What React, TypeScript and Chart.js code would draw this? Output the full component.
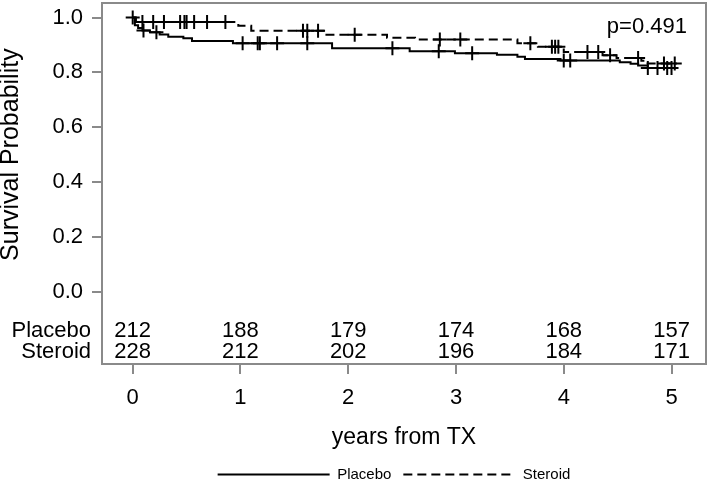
import React, { useEffect, useRef } from "react";
import { Chart, registerables } from "chart.js";

Chart.register(...registerables);

const FONT = "'Liberation Sans', Arial, Helvetica, sans-serif";

// Kaplan-Meier step data (time in years, survival probability)
const placeboTimes = [0, 0.02, 0.05, 0.09, 0.16, 0.25, 0.33, 0.47, 0.55, 0.93, 1.85, 2.57, 2.99, 3.38, 3.57, 3.64, 3.97, 4.52, 4.62, 4.69, 4.78, 5.05];
const placeboSurv = [1.0, 0.972, 0.962, 0.953, 0.946, 0.938, 0.93, 0.924, 0.914, 0.906, 0.888, 0.877, 0.87, 0.864, 0.857, 0.849, 0.843, 0.837, 0.831, 0.825, 0.816, 0.816];
const steroidTimes = [0, 0.03, 0.98, 1.1, 1.77, 2.36, 2.62, 3.57, 3.76, 4.0, 4.36, 4.49, 4.72, 4.76, 5.05];
const steroidSurv = [1.0, 0.984, 0.97, 0.952, 0.937, 0.926, 0.92, 0.906, 0.893, 0.874, 0.862, 0.852, 0.842, 0.832, 0.832];

// censoring times
const placeboCensor = [0.1, 0.22, 1.02, 1.16, 1.18, 1.34, 1.62, 2.41, 2.84, 3.15, 4.0, 4.06, 4.78, 4.87, 4.96, 5.0];
const steroidCensor = [0, 0.09, 0.19, 0.29, 0.44, 0.48, 0.5, 0.57, 0.69, 0.86, 1.58, 1.62, 1.72, 2.06, 2.85, 3.04, 3.69, 3.89, 3.92, 3.95, 4.22, 4.32, 4.43, 4.69, 4.93, 5.03];

const xTicks = [0, 1, 2, 3, 4, 5];
const yTicks = [0, 0.2, 0.4, 0.6, 0.8, 1.0];

const groupLabels = ["Placebo", "Steroid"];
const placeboAtRisk = [212, 188, 179, 174, 168, 157];
const steroidAtRisk = [228, 212, 202, 196, 184, 171];

const pValueText = "p=0.491";
const xTitle = "years from TX";
const yTitle = "Survival Probability";

function survAt(times: number[], surv: number[], t: number) {
  let v = surv[0];
  for (let i = 0; i < times.length; i++) {
    if (times[i] <= t) v = surv[i];
  }
  return v;
}

const GRAY = "#8a8a8a";

const boxPlugin = {
  id: "boxPlugin",
  afterLayout(chart: any) {
    if (chart.legend) {
      chart.legend.left -= 10;
      chart.legend.right -= 10;
    }
  },
  beforeDatasetsDraw(chart: any) {
    const { ctx, chartArea } = chart;
    ctx.save();
    ctx.strokeStyle = GRAY;
    ctx.lineWidth = 2;
    ctx.strokeRect(chartArea.left, chartArea.top, chartArea.right - chartArea.left, chartArea.bottom - chartArea.top);
    ctx.restore();
  },
};

const textPlugin = {
  id: "textPlugin",
  afterDraw(chart: any) {
    const { ctx } = chart;
    const x = chart.scales.x;
    const y = chart.scales.y;
    ctx.save();
    ctx.fillStyle = "#000";
    ctx.font = `22px ${FONT}`;
    ctx.textBaseline = "alphabetic";
    ctx.textAlign = "right";
    ctx.fillText(pValueText, 687, 33);

    const rows = [placeboAtRisk, steroidAtRisk];
    const rowBase = [337, 358];
    rows.forEach((row, r) => {
      ctx.textAlign = "right";
      ctx.fillText(groupLabels[r], 91, rowBase[r]);
      ctx.textAlign = "center";
      row.forEach((n, i) => {
        ctx.fillText(String(n), x.getPixelForValue(xTicks[i]), rowBase[r]);
      });
    });

    ctx.translate(18, y.getPixelForValue(0.5));
    ctx.rotate(-Math.PI / 2);
    ctx.font = `25px ${FONT}`;
    ctx.textAlign = "center";
    ctx.textBaseline = "alphabetic";
    ctx.fillText(yTitle, 0, 0);
    ctx.restore();
  },
};

export default function App() {
  const ref = useRef<HTMLCanvasElement>(null);

  useEffect(() => {
    if (!ref.current) return;
    const lineBase = {
      borderColor: "#000",
      backgroundColor: "#000",
      borderWidth: 2,
      stepped: true,
      pointRadius: 0,
      pointHoverRadius: 0,
      pointStyle: "line",
      fill: false,
    };
    const censorBase = {
      showLine: false,
      pointStyle: "cross",
      pointRadius: 7,
      pointHoverRadius: 7,
      pointBorderWidth: 2,
      borderColor: "#000",
      backgroundColor: "#000",
      pointBorderColor: "#000",
    };
    const chart = new Chart(ref.current, {
      type: "line",
      data: {
        datasets: [
          {
            ...lineBase,
            label: groupLabels[0],
            data: placeboTimes.map((t, i) => ({ x: t, y: placeboSurv[i] })),
          },
          {
            ...lineBase,
            label: groupLabels[1],
            borderDash: [9, 5],
            data: steroidTimes.map((t, i) => ({ x: t, y: steroidSurv[i] })),
          },
          {
            ...censorBase,
            label: "Placebo censored",
            data: placeboCensor.map((t) => ({ x: t, y: survAt(placeboTimes, placeboSurv, t) })),
          },
          {
            ...censorBase,
            label: "Steroid censored",
            data: steroidCensor.map((t) => ({ x: t, y: survAt(steroidTimes, steroidSurv, t) })),
          },
        ],
      } as any,
      options: {
        animation: false,
        responsive: false,
        devicePixelRatio: 1,
        layout: { autoPadding: false, padding: { top: 3, right: 3, left: 0, bottom: 0 } },
        plugins: {
          tooltip: { enabled: false },
          legend: {
            position: "bottom",
            fullSize: false,
            labels: {
              usePointStyle: true,
              pointStyleWidth: 112,
              color: "#000",
              padding: 12,
              font: { family: FONT, size: 15 },
              generateLabels: (c: any) =>
                (Chart.defaults.plugins.legend.labels.generateLabels as any)(c)
                  .filter((i: any) => i.datasetIndex < 2)
                  .map((i: any) => ({
                    ...i,
                    pointStyle: "line",
                    lineWidth: 2,
                    strokeStyle: "#000",
                    lineDash: i.datasetIndex === 1 ? [9, 5] : [],
                  })),
            },
          },
        },
        scales: {
          x: {
            type: "linear",
            min: -0.285,
            max: 5.32,
            afterBuildTicks: (s: any) => {
              s.ticks = xTicks.map((v) => ({ value: v }));
            },
            afterFit: (s: any) => {
              s.height = 91;
              s.paddingLeft = 0;
              s.paddingRight = 0;
            },
            ticks: {
              color: "#000",
              font: { family: FONT, size: 22 },
              padding: 11,
              maxRotation: 0,
              autoSkip: false,
              callback: (v: any) => String(v),
            },
            grid: { drawOnChartArea: false, drawTicks: true, tickLength: 10, color: GRAY, lineWidth: 2 },
            border: { display: false },
            title: {
              display: true,
              text: xTitle,
              color: "#000",
              font: { family: FONT, size: 23, lineHeight: 1 },
              padding: { top: 0, bottom: 6 },
            },
          },
          y: {
            type: "linear",
            min: -0.2634,
            max: 1.0529,
            afterBuildTicks: (s: any) => {
              s.ticks = yTicks.map((v) => ({ value: v }));
            },
            afterFit: (s: any) => {
              s.width = 102;
              s.paddingTop = 0;
              s.paddingBottom = 0;
            },
            ticks: {
              color: "#000",
              font: { family: FONT, size: 22 },
              padding: 9,
              callback: (v: any) => Number(v).toFixed(1),
            },
            grid: { drawOnChartArea: false, drawTicks: true, tickLength: 10, color: GRAY, lineWidth: 2 },
            border: { display: false },
          },
        },
      } as any,
      plugins: [boxPlugin, textPlugin],
    });
    return () => chart.destroy();
  }, []);

  return (
    <div style={{ position: "fixed", left: 0, top: 0, width: 709, height: 488, overflow: "hidden", background: "#fff" }}>
      <canvas ref={ref} width={709} height={492} style={{ display: "block" }} />
    </div>
  );
}
